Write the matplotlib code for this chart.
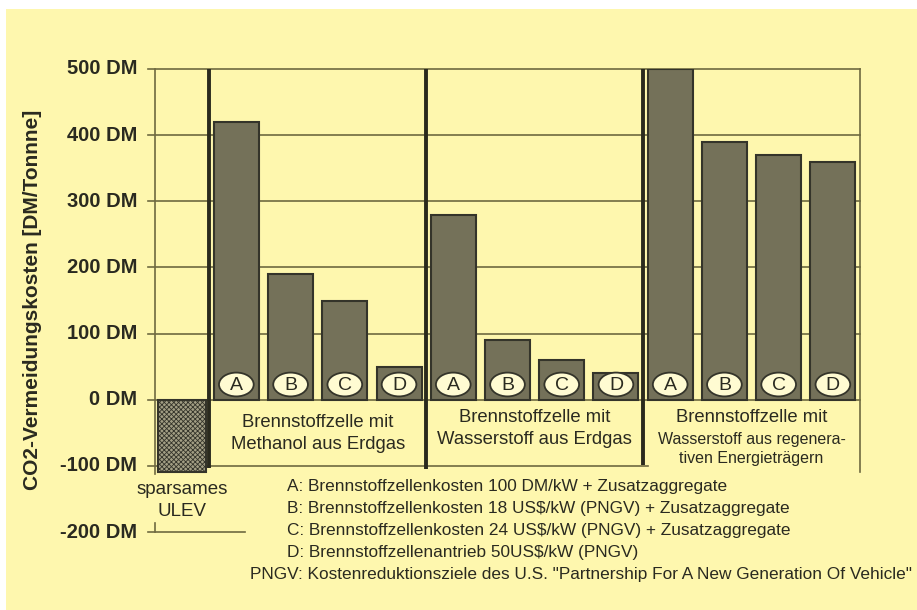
import numpy as np
import matplotlib
import matplotlib.pyplot as plt
from matplotlib.patches import Ellipse, Rectangle

# CO2 avoidance cost per tonne, fuel cell variants A-D in three groups
variants = ['A', 'B', 'C', 'D']
methanol_erdgas = [420, 190, 150, 50]
wasserstoff_erdgas = [280, 90, 60, 40]
wasserstoff_regenerativ = [500, 390, 370, 360]
ulev_value = -110

group_labels = ['Brennstoffzelle mit\nMethanol aus Erdgas',
                'Brennstoffzelle mit\nWasserstoff aus Erdgas']
group3_title = 'Brennstoffzelle mit'
group3_sub = 'Wasserstoff aus regenera-\ntiven Energieträgern'

yticks = [-200, -100, 0, 100, 200, 300, 400, 500]
ytick_labels = ['%d DM' % v for v in yticks]

notes = ['A: Brennstoffzellenkosten 100 DM/kW + Zusatzaggregate',
         'B: Brennstoffzellenkosten 18 US$/kW (PNGV) + Zusatzaggregate',
         'C: Brennstoffzellenkosten 24 US$/kW (PNGV) + Zusatzaggregate',
         'D: Brennstoffzellenantrieb 50US$/kW (PNGV)']
pngv_note = 'PNGV: Kostenreduktionsziele des U.S. "Partnership For A New Generation Of Vehicle"'

matplotlib.rcParams['font.family'] = 'Liberation Sans'
bg = '#fef7ae'
bar_col = '#747159'
edge_col = '#34342a'
grid_col = '#6e6a40'
txt_col = '#2a2a20'

fig = plt.figure(figsize=(9.17, 6.10), dpi=100, facecolor='white')
fig.patches.append(Rectangle((6/917, 0), 1, 1 - 9/610, transform=fig.transFigure,
                             facecolor=bg, edgecolor='none', zorder=-10))

ax = fig.add_axes([155/917, (610-532)/610, 705/917, 463/610])
ax.set_facecolor('none')
ax.set_xlim(-0.5, 12.5)
ax.set_ylim(-200, 500)
for s in ax.spines.values():
    s.set_visible(False)
ax.set_xticks([])
ax.set_yticks([])

# horizontal grid and ticks
for v in [100, 200, 300, 400, 500, 0]:
    ax.plot([-0.63, 12.5], [v, v], color=grid_col, lw=1.2, zorder=1, clip_on=False)
ax.plot([-0.63, 8.6], [-100, -100], color=grid_col, lw=1.2, zorder=1, clip_on=False)
ax.plot([-0.63, 1.16], [-200, -200], color=grid_col, lw=1.2, zorder=1, clip_on=False)
ax.plot([-0.5, -0.5], [500, -112], color=grid_col, lw=1.2, zorder=1, clip_on=False)
ax.plot([-0.5, -0.5], [-186, -200], color=grid_col, lw=1.2, zorder=1, clip_on=False)
ax.plot([12.5, 12.5], [500, -110], color=grid_col, lw=1.2, zorder=1, clip_on=False)

for v, lab in zip(yticks, ytick_labels):
    ax.text(-0.83, v, lab, ha='right', va='center', fontsize=14.5, fontweight='bold',
            color=txt_col)
ax.text(-2.75, 151, 'CO2-Vermeidungskosten [DM/Tonnne]', rotation=90, ha='center',
        va='center', fontsize=15, fontweight='bold', color=txt_col)

# fuel cell bars
values = methanol_erdgas + wasserstoff_erdgas + wasserstoff_regenerativ
xpos = np.arange(1, 13)
ax.bar(xpos, values, width=0.83, color=bar_col, edgecolor=edge_col, linewidth=1.5, zorder=3)

# ULEV bar (stippled)
plt.rcParams['hatch.linewidth'] = 0.6
plt.rcParams['hatch.color'] = '#4a4836'
ax.bar([0], [ulev_value], width=0.88, color='#a29e84', edgecolor=edge_col,
       hatch='xxxxxxx', linewidth=1.5, zorder=3)

# letter markers
for i, x in enumerate(xpos):
    ax.add_patch(Ellipse((x, 23), 0.64, 36, facecolor='#fffbd2', edgecolor=edge_col,
                         linewidth=1.3, zorder=4))
    ax.text(x, 22, variants[i % 4], ha='center', va='center', fontsize=14,
            color=txt_col, zorder=5)

# group separators
for x, ybot in [(0.5, -103), (4.5, -105), (8.5, -98)]:
    ax.plot([x, x], [500, ybot], color='#2a2a1e', lw=2.8, zorder=5, solid_capstyle='butt',
            clip_on=False)

# group captions
fs = 13.3
ax.text(2.5, -35, group_labels[0].split('\n')[0], ha='center', va='center', fontsize=fs, color=txt_col)
ax.text(2.5, -68, group_labels[0].split('\n')[1], ha='center', va='center', fontsize=fs, color=txt_col)
ax.text(6.5, -27, group_labels[1].split('\n')[0], ha='center', va='center', fontsize=fs, color=txt_col)
ax.text(6.5, -60, group_labels[1].split('\n')[1], ha='center', va='center', fontsize=fs, color=txt_col)
ax.text(10.5, -27, group3_title, ha='center', va='center', fontsize=fs, color=txt_col)
sub = group3_sub.split('\n')
ax.text(10.5, -60, sub[0], ha='center', va='center', fontsize=11.5, color=txt_col)
ax.text(10.5, -89, sub[1], ha='center', va='center', fontsize=11.5, color=txt_col)

ax.text(0, -136, 'sparsames', ha='center', va='center', fontsize=13.5, color=txt_col, clip_on=False)
ax.text(0, -169, 'ULEV', ha='center', va='center', fontsize=13.5, color=txt_col, clip_on=False)

# footnotes
for k, line in enumerate(notes):
    fig.text(287/917, 1 - (486 + 22*k)/610, line, ha='left', va='center', fontsize=12.4,
             color=txt_col)
fig.text(250/917, 1 - 574/610, pngv_note, ha='left', va='center', fontsize=12.4, color=txt_col)

fig.savefig('out.png', dpi=100, facecolor=fig.get_facecolor())
